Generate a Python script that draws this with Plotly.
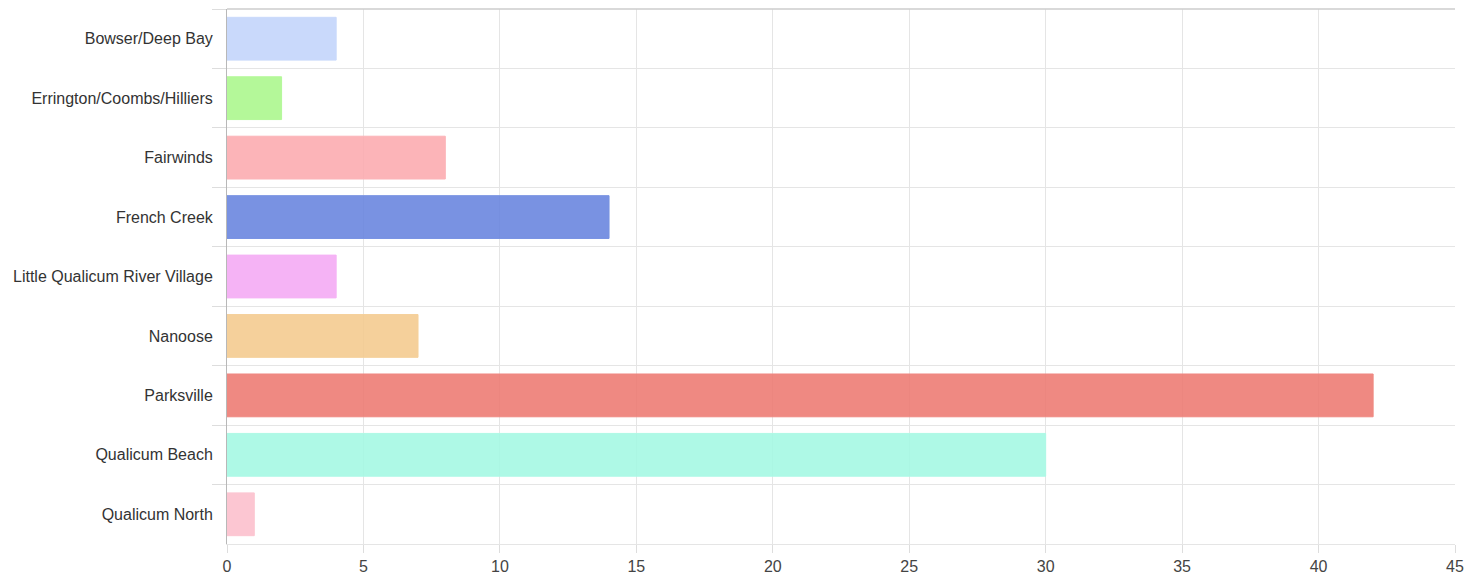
import plotly.graph_objects as go

categories = ["Bowser/Deep Bay", "Errington/Coombs/Hilliers", "Fairwinds", "French Creek",
              "Little Qualicum River Village", "Nanoose", "Parksville", "Qualicum Beach",
              "Qualicum North"]
values = [4, 2, 8, 14, 4, 7, 42, 30, 1]
x_ticks = [0, 5, 10, 15, 20, 25, 30, 35, 40, 45]

shown_colors = ["#c9d9fb", "#b4f899", "#fcb4b8", "#7892e2", "#f5b3f5",
                "#f5d09b", "#ef8982", "#aef9e6", "#fcc6d2"]

ALPHA = 0.88


def to_rgba(hexc, a=ALPHA):
    r, g, b = (int(hexc[i:i + 2], 16) for i in (1, 3, 5))
    conv = lambda d: max(0, min(255, round((d - (1 - a) * 255) / a)))
    return f"rgba({conv(r)},{conv(g)},{conv(b)},{a})"


fill = [to_rgba(c) for c in shown_colors]

fig = go.Figure(go.Bar(
    x=values, y=categories, orientation="h",
    marker=dict(color=fill, line=dict(color=shown_colors, width=1)),
    hoverinfo="x+y",
))

fig.update_layout(
    width=1480, height=576,
    margin=dict(l=227, r=25, t=9, b=32),
    paper_bgcolor="white", plot_bgcolor="white",
    bargap=0.28, showlegend=False,
    font=dict(family="Liberation Sans, Arial, sans-serif", size=16, color="#333333"),
)
fig.update_xaxes(
    range=[0, 45], tickvals=x_ticks, showgrid=True, gridcolor="#e5e5e5", gridwidth=1,
    zeroline=False, ticks="outside", ticklen=8, tickcolor="#dddddd",
    showline=True, linecolor="#e5e5e5", mirror=False, automargin=False,
    tickfont=dict(size=16, color="#444444"),
)
fig.update_yaxes(
    type="category", categoryorder="array", categoryarray=categories,
    autorange="reversed", tickson="boundaries", showgrid=True, gridcolor="#e5e5e5",
    ticks="outside", ticklen=14, tickcolor="#dddddd", ticklabelstandoff=10,
    showline=True, linecolor="#b8b8b8", linewidth=1, automargin=False,
    tickfont=dict(size=16, color="#333333"),
)
# top border
fig.add_shape(type="line", xref="paper", yref="paper", x0=0, x1=1, y0=1, y1=1,
              line=dict(color="#cccccc", width=1.5))

fig.write_html(
    "out.html",
    config={"displayModeBar": False},
    post_script="document.body.style.margin='0';document.body.style.overflow='hidden';",
)
